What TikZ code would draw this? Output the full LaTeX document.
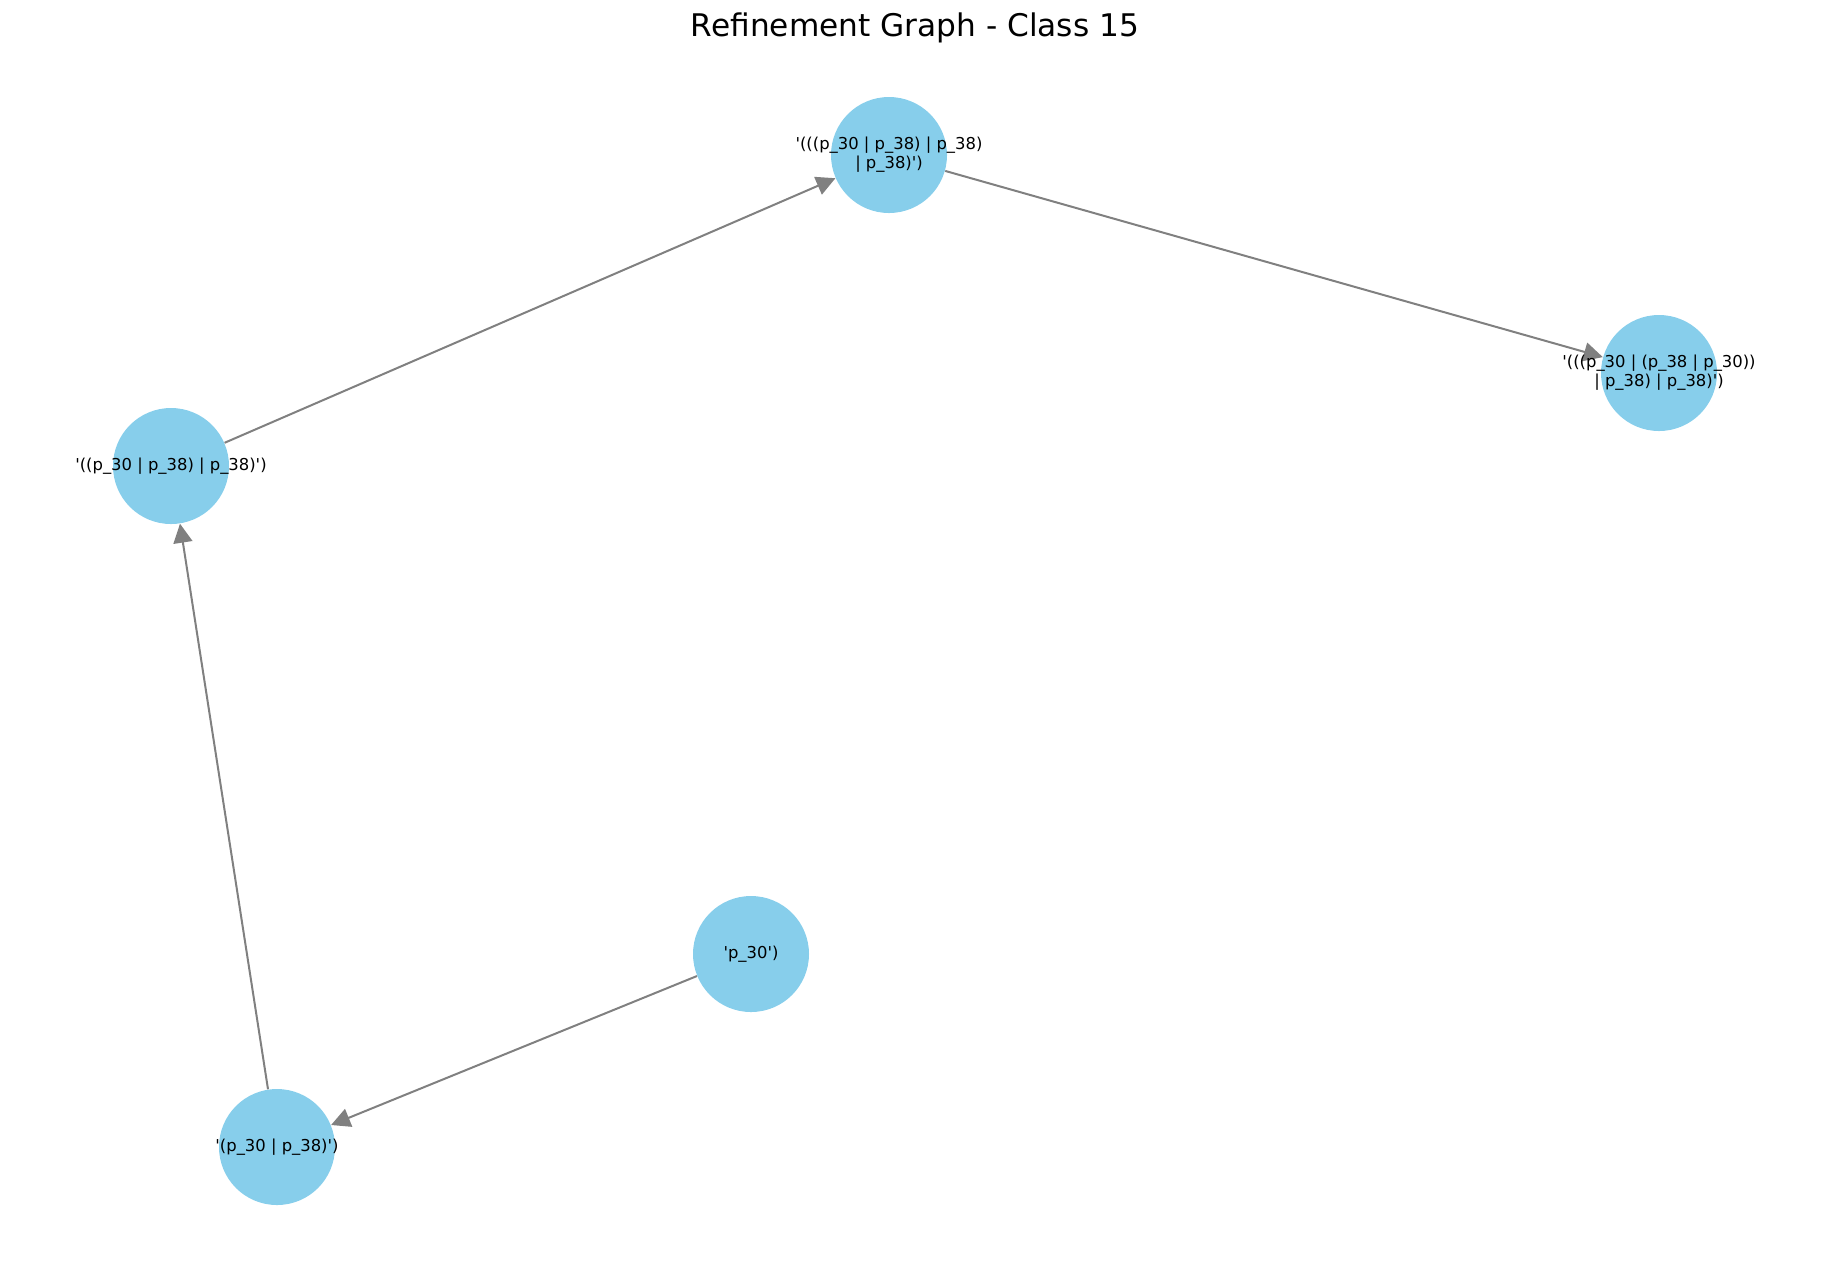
\documentclass[tikz,border=0pt]{standalone}
\usepackage{fontspec}
\setmainfont{DejaVu Sans}
\usetikzlibrary{arrows.meta}
\definecolor{skyblue}{HTML}{87CEEB}
\definecolor{edgegray}{HTML}{808080}
\newcommand{\q}{\textquotesingle}
\begin{document}
\begin{tikzpicture}[x=0.5pt,y=-0.5pt,
  vertex/.style={circle,fill=skyblue,draw=none,minimum size=58pt,inner sep=0pt},
  lbl/.style={font=\fontsize{8.2pt}{9.4pt}\selectfont,align=center,inner sep=0pt,text=black},
  edge/.style={draw=edgegray,line width=1pt,-{Triangle[length=9.5pt,width=9.5pt]},shorten >=0pt}]
\useasboundingbox (0,0) rectangle (1830,1266);
\node[font=\fontsize{15.6pt}{18pt}\selectfont] (title) at (915,28) {Refinement Graph - Class 15};

\node[vertex] (top) at (889,155) {};
\node[vertex] (right) at (1659,373) {};
\node[vertex] (left) at (171,466) {};
\node[vertex] (p30) at (751,954) {};
\node[vertex] (bot) at (277,1147) {};

\draw[edge] (left) -- (top);
\draw[edge] (top) -- (right);
\draw[edge] (p30) -- (bot);
\draw[edge] (bot) -- (left);

\node[lbl] (toplbl) at (top) {\q(((p\_30 | p\_38) | p\_38)\\| p\_38)\q)};
\node[lbl] (rightlbl) at (right) {\q(((p\_30 | (p\_38 | p\_30))\\| p\_38) | p\_38)\q)};
\node[lbl] (leftlbl) at (left) {\q((p\_30 | p\_38) | p\_38)\q)};
\node[lbl] (p30lbl) at (p30) {\q p\_30\q)};
\node[lbl] (botlbl) at (bot) {\q(p\_30 | p\_38)\q)};
\end{tikzpicture}
\end{document}
